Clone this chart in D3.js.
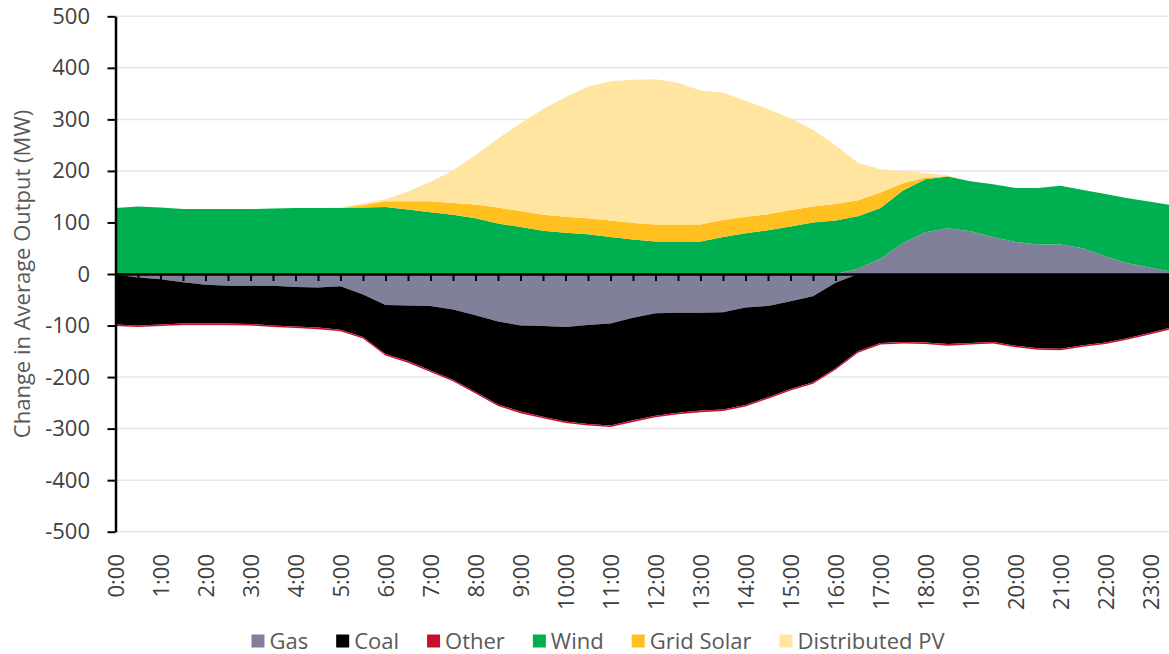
<!DOCTYPE html>
<html>
<head>
<meta charset="utf-8">
<script src="https://cdn.jsdelivr.net/npm/d3@7"></script>
<style>
  html, body { margin: 0; padding: 0; background: #fff; }
  svg { display: block; }
  text { font-family: "Segoe UI", "Open Sans", "Noto Sans", sans-serif; }
</style>
</head>
<body>
<svg id="chart" width="1169" height="654"></svg>
<script>
// Half-hourly intervals across the day
const times = [
  "0:00","0:30","1:00","1:30","2:00","2:30","3:00","3:30","4:00","4:30",
  "5:00","5:30","6:00","6:30","7:00","7:30","8:00","8:30","9:00","9:30",
  "10:00","10:30","11:00","11:30","12:00","12:30","13:00","13:30","14:00","14:30",
  "15:00","15:30","16:00","16:30","17:00","17:30","18:00","18:30","19:00","19:30",
  "20:00","20:30","21:00","21:30","22:00","22:30","23:00","23:30"
];

// Change in average output by fuel type (MW)
const gas = [
  -1, -7, -10, -16, -21, -23, -23, -23, -25, -26,
  -24, -40, -60, -61, -62, -69, -80, -92, -100, -101,
  -103, -99, -96, -85, -76, -75, -75, -74, -65, -62,
  -53, -43, -17, 10, 30, 60, 81, 89, 83, 72,
  62, 57, 57, 50, 34, 21, 12, 4
];
const coal = [
  -97, -93, -88, -80, -75, -73, -74, -77, -77, -78,
  -84, -82, -95, -108, -125, -136, -149, -161, -167, -176,
  -183, -192, -198, -199, -199, -194, -190, -189, -189, -177,
  -170, -167, -166, -150, -134, -132, -133, -136, -134, -132,
  -139, -144, -145, -138, -133, -124, -114, -103
];
const other = [
  -3, -3, -3, -3, -3, -3, -3, -3, -3, -3,
  -3, -3, -3, -3, -3, -3, -3, -3, -3, -3,
  -3, -3, -3, -3, -3, -3, -3, -3, -3, -3,
  -3, -3, -3, -3, -3, -3, -3, -3, -3, -3,
  -3, -3, -3, -3, -3, -3, -3, -3
];
const wind = [
  128, 131, 129, 126, 126, 126, 126, 127, 128, 128,
  128, 129, 130, 125, 120, 115, 108, 98, 91, 84,
  80, 77, 72, 67, 63, 63, 63, 72, 79, 85,
  92, 100, 104, 102, 98, 102, 103, 100, 97, 102,
  105, 110, 114, 113, 121, 126, 128, 129
];
const gridSolar = [
  0, 0, 0, 0, 0, 0, 0, 0, 0, 0,
  0, 5, 11, 16, 21, 23, 27, 31, 31, 31,
  31, 31, 32, 32, 33, 33, 33, 33, 32, 31,
  32, 31, 32, 31, 30, 14, 3, 1, 0, 0,
  0, 0, 0, 0, 0, 0, 0, 0
];
const distributedPV = [
  0, 0, 0, 0, 0, 0, 0, 0, 0, 0,
  1, 3, 4, 19, 38, 63, 96, 134, 170, 205,
  232, 256, 270, 278, 282, 275, 260, 247, 225, 204,
  178, 149, 114, 73, 45, 24, 9, 1, 0, 0,
  0, 0, 0, 0, 0, 0, 0, 0
];

const seriesNames = ["Gas", "Coal", "Other", "Wind", "Grid Solar", "Distributed PV"];
const seriesColors = ["#80809a", "#000000", "#c8102e", "#00b050", "#ffc020", "#ffe5a0"];
const yTicks = [-500, -400, -300, -200, -100, 0, 100, 200, 300, 400, 500];
const hourLabels = times.filter(t => t.endsWith(":00"));

const seriesValues = [gas, coal, other, wind, gridSolar, distributedPV];
const rows = times.map((t, i) => {
  const r = { time: t };
  seriesNames.forEach((k, s) => { r[k] = seriesValues[s][i]; });
  return r;
});

const svg = d3.select("#chart");
const W = 1169, H = 654;
const axisX = 115.5;

const x = d3.scalePoint().domain(times).range([axisX, axisX + 22.5 * (times.length - 1)]).padding(0);
const y = d3.scaleLinear().domain([-500, 500]).range([531.7, 16.3]);

// Positive values stack upward from zero, negative ones downward;
// zero-valued layers sit on top of the positive stack.
function divergingOffset(series, order) {
  const n = series.length;
  if (!n) return;
  const m = series[order[0]].length;
  for (let j = 0; j < m; ++j) {
    let yp = 0, yn = 0;
    for (let i = 0; i < n; ++i) {
      const d = series[order[i]][j];
      const dy = d[1] - d[0];
      if (dy >= 0) { d[0] = yp; d[1] = yp += dy; }
      else { d[1] = yn; d[0] = yn += dy; }
    }
  }
}

const stacked = d3.stack().keys(seriesNames).offset(divergingOffset)(rows);

// Gridlines
svg.append("g")
  .selectAll("line")
  .data(yTicks.filter(v => v !== 0))
  .join("line")
  .attr("x1", axisX).attr("x2", W)
  .attr("y1", d => y(d)).attr("y2", d => y(d))
  .attr("stroke", "#e6e6e6")
  .attr("stroke-width", 1.5);

// Stacked areas
const area = d3.area()
  .x(d => x(d.data.time))
  .y0(d => y(d[0]))
  .y1(d => y(d[1]))
  .curve(d3.curveLinear);

svg.append("g")
  .selectAll("path")
  .data(stacked)
  .join("path")
  .attr("d", area)
  .attr("fill", (d, i) => seriesColors[i]);

// Category ticks along the zero line
const zeroAxis = svg.append("g")
  .attr("transform", `translate(0,${y(0)})`)
  .call(d3.axisBottom(x).tickSize(7).tickSizeOuter(0).tickFormat(""));
zeroAxis.select(".domain").attr("stroke", "#000").attr("stroke-width", 2.5);
zeroAxis.selectAll(".tick line").attr("stroke", "#000").attr("stroke-width", 2);

// Y axis
const yAxis = svg.append("g")
  .attr("transform", `translate(${axisX},0)`)
  .call(d3.axisLeft(y).tickValues(yTicks).tickFormat(d => String(d))
    .tickSize(8).tickSizeOuter(0).tickPadding(17.5));
yAxis.select(".domain").attr("stroke", "#000").attr("stroke-width", 2.5);
yAxis.selectAll(".tick line").attr("stroke", "#000").attr("stroke-width", 2);
yAxis.selectAll(".tick text")
  .attr("fill", "#404040")
  .style("font-size", "22px");

// Hour labels below the plot
const xLabels = svg.append("g")
  .attr("transform", "translate(0,554)")
  .call(d3.axisBottom(x).tickValues(hourLabels).tickSize(0).tickPadding(0));
xLabels.select(".domain").remove();
xLabels.selectAll(".tick text")
  .attr("x", 0).attr("y", 0).attr("dy", "0.35em")
  .attr("transform", "rotate(-90)")
  .style("text-anchor", "end")
  .style("font-size", "22px")
  .attr("fill", "#404040");

// Y axis title
svg.append("text")
  .attr("transform", `translate(22,${(y(500) + y(-500)) / 2}) rotate(-90)`)
  .attr("text-anchor", "middle")
  .attr("dy", "0.35em")
  .style("font-size", "22px")
  .attr("fill", "#595959")
  .text("Change in Average Output (MW)");

// Legend
const legend = svg.append("g");
const items = legend.selectAll("g")
  .data(seriesNames)
  .join("g");
items.append("rect")
  .attr("width", 13).attr("height", 13)
  .attr("y", -6.5)
  .attr("fill", (d, i) => seriesColors[i]);
items.append("text")
  .attr("x", 18)
  .attr("dy", "0.35em")
  .style("font-size", "22px")
  .attr("fill", "#595959")
  .text(d => d);

let cursor = 0;
items.each(function () {
  const g = d3.select(this);
  const w = 18 + g.select("text").node().getComputedTextLength();
  g.attr("transform", `translate(${cursor},641)`);
  cursor += w + 28;
});
const legendWidth = cursor - 28;
legend.attr("transform", `translate(${598 - legendWidth / 2},0)`);
</script>
</body>
</html>
